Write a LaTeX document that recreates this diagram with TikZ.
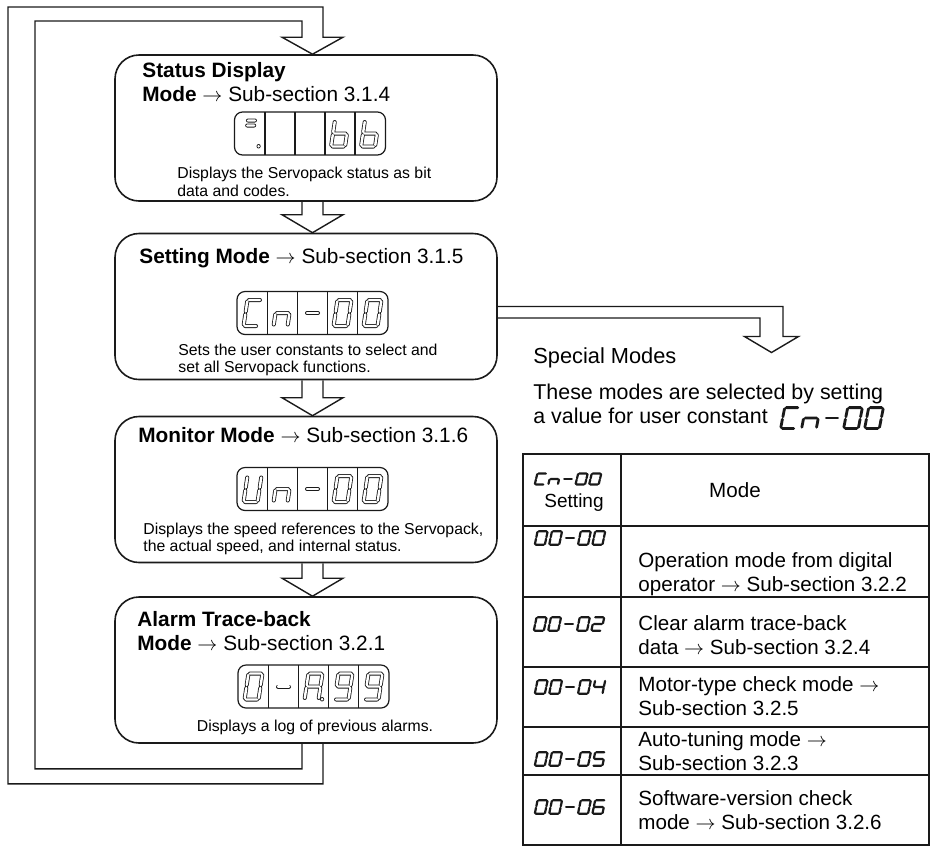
\documentclass[tikz,border=0pt]{standalone}
\usepackage{fontspec}
\setmainfont{Liberation Sans}
\usepackage{tikz}
\usetikzlibrary{positioning,calc}
\definecolor{inkblack}{HTML}{1A1A1A}
% seven-segment pieces (one cell, y runs down)
\newcommand\sga{(-5.5,-13) -- (5.5,-13)}
\newcommand\sgb{(7,-11.5) -- (7,-1.5)}
\newcommand\sgc{(7,1.5) -- (7,11.5)}
\newcommand\sgd{(-5.5,13) -- (5.5,13)}
\newcommand\sge{(-7,1.5) -- (-7,11.5)}
\newcommand\sgf{(-7,-11.5) -- (-7,-1.5)}
\newcommand\sgg{(-5.5,0) -- (5.5,0)}
\newcommand\sgp{(10.5,12.5) -- (10.5,13)}
\newcommand\chNone{}
\newcommand\chStat{(-4,-13) -- (3,-13) (-4,-8) -- (3,-8) \sgp}
\newcommand\chB{\sgf\sge\sgd\sgc\sgg}
\newcommand\chC{\sga\sgf\sge\sgd}
\newcommand\chN{\sge\sgg\sgc}
\newcommand\chM{\sgg}
\newcommand\chO{\sga\sgb\sgc\sgd\sge\sgf}
\newcommand\chU{\sgb\sgc\sgd\sge\sgf}
\newcommand\chA{\sga\sgb\sgc\sge\sgf\sgg\sgp}
\newcommand\chNine{\sga\sgb\sgc\sgd\sgf\sgg}
\newcommand\chTwo{\sga\sgb\sgg\sge\sgd}
\newcommand\chFour{\sgf\sgg\sgb\sgc}
\newcommand\chFive{\sga\sgf\sgg\sgc\sgd}
\newcommand\chSix{\sga\sgf\sgg\sge\sgd\sgc}
\tikzset{
  modebox/.style={rounded corners=12pt, draw=inkblack, line width=0.8pt, minimum width=191pt, minimum height=73pt},
  modetitle/.style={anchor=west, align=left, inner sep=0pt, font=\fontsize{10.4}{12}\selectfont},
  modedesc/.style={anchor=west, align=left, inner sep=0pt, font=\fontsize{7.9}{8.8}\selectfont},
  notetext/.style={anchor=west, align=left, inner sep=0pt, font=\fontsize{10.7}{12}\selectfont},
  tabletext/.style={anchor=west, align=left, inner sep=0pt, font=\fontsize{10.3}{12}\selectfont},
  hollow/.style={draw=inkblack, line width=0.7pt},
  tableline/.style={draw=inkblack, line width=0.6pt},
  lcdframe/.style={draw=inkblack, line width=0.6pt},
  segline/.style={draw=inkblack, line width=0.4pt, double=white, double distance=1.2pt, line cap=round, xslant=0.15},
  tseg/.style={draw=inkblack, line width=1.1pt, line cap=round, xslant=0.15},
  pics/glyph/.style={code={\draw[segline] #1;}},
  pics/lcd/.style args={#1,#2,#3,#4,#5}{code={
    \draw[lcdframe, rounded corners=4pt] (-75.5,-21.5) rectangle (75.5,21.5);
    \foreach \k in {-45,-15,15,45} \draw[lcdframe] (\k,-21.5) -- (\k,21.5);
    \foreach \g [count=\i] in {{#1},{#2},{#3},{#4},{#5}} \pic at (30*\i-90,0) {glyph=\g};
  }},
  pics/seglabel/.style args={#1,#2,#3,#4,#5}{code={
    \foreach \g [count=\i] in {{#1},{#2},{#3},{#4},{#5}} \draw[tseg, shift={(20*\i-60,0)}] \g;
  }}
}
\begin{document}
\begin{tikzpicture}[x=0.5pt, y=-0.5pt]
  \useasboundingbox (0,0) rectangle (931,847);
  \coordinate (ax) at (312.5,0);
  \coordinate (sx) at (771.5,0);
  \coordinate (loopin) at (35,21);
  \coordinate (loopout) at (8,7);

  % mode cycle
  \node[modebox] (status) at (306,128) {};
  \node[modebox] (setting) at (306,306.5) {};
  \node[modebox] (monitor) at (306,489.5) {};
  \node[modebox] (alarm) at (306,670) {};

  \node[modetitle] (statustitle) at (142,82.5) {\textbf{Status Display}\\\textbf{Mode} $\rightarrow$ Sub-section 3.1.4};
  \pic at (310,133.5) {lcd={\chStat,\chNone,\chNone,\chB,\chB}};
  \node[modedesc] (statusdesc) at (177,182) {Displays the Servopack status as bit\\data and codes.};

  \node[modetitle] (settingtitle) at (139,258) {\textbf{Setting Mode} $\rightarrow$ Sub-section 3.1.5};
  \pic at (312.5,313) {lcd={\chC,\chN,\chM,\chO,\chO}};
  \node[modedesc] (settingdesc) at (178,360) {Sets the user constants to select and\\set all Servopack functions.};

  \node[modetitle] (monitortitle) at (138,435) {\textbf{Monitor Mode} $\rightarrow$ Sub-section 3.1.6};
  \pic at (312.5,489) {lcd={\chU,\chN,\chM,\chO,\chO}};
  \node[modedesc] (monitordesc) at (143,539) {Displays the speed references to the Servopack,\\the actual speed, and internal status.};

  \node[modetitle] (alarmtitle) at (137,631.5) {\textbf{Alarm Trace-back}\\\textbf{Mode} $\rightarrow$ Sub-section 3.2.1};
  \pic at (313.5,686.5) {lcd={\chO,\chM,\chA,\chNine,\chNine}};
  \node[modedesc, anchor=center] (alarmdesc) at (315,727.5) {Displays a log of previous alarms.};

  \foreach \a/\b in {status/setting, setting/monitor, monitor/alarm}
    \draw[hollow] ($(\a.south -| ax)+(-10.5,0)$) |- ($(\b.north -| ax)+(-30.5,-18)$) -- (\b.north -| ax) -- ++(30.5,-18) -| ($(\a.south -| ax)+(10.5,0)$);

  % return path
  \draw[hollow] ($(alarm.south -| ax)+(-10.5,0)$) -- ++(0,25) -| (loopin) -| ($(status.north -| ax)+(-10.5,-17)$) -- ++(-20,0) -- (status.north -| ax) -- ++(30.5,-17) -- ++(-20,0) |- (loopout) |- ($(alarm.south -| ax)+(10.5,40)$) -- ($(alarm.south -| ax)+(10.5,0)$);

  % special modes
  \draw[hollow] (setting.east) -| ($(setting.east -| sx)+(11.5,30)$) -- ++(15.5,0) -- ($(setting.east -| sx)+(0,46)$) -- ++(-27,-16) -- ++(15.5,0) |- ($(setting.east)+(0,11.5)$);
  \node[notetext, font=\fontsize{10.9}{12}\selectfont] (specialhead) at (533,358) {Special Modes};
  \node[notetext] (specialnote) at (533,404) {These modes are selected by setting\\a value for user constant};
  \pic[xscale=1.05, yscale=0.8, tseg/.append style={line width=1.4pt}] at (832,418) {seglabel={\chC,\chN,\chM,\chO,\chO}};

  % table
  \draw[tableline] (523,454) rectangle (929,845);
  \draw[tableline] (621,454) -- (621,845);
  \foreach \y in {526,597,667,727,775}
    \draw[tableline] (523,\y) -- (929,\y);
  \pic[xscale=0.68, yscale=0.42] at (568,479) {seglabel={\chC,\chN,\chM,\chO,\chO}};
  \node[tabletext, anchor=east, font=\fontsize{9.5}{11}\selectfont] (settinghead) at (604,503) {Setting};
  \node[tabletext, anchor=center] (modehead) at (735,490) {Mode};
  \pic[xscale=0.72, yscale=0.52] at (570,538) {seglabel={\chO,\chO,\chM,\chO,\chO}};
  \node[tabletext] (opmode) at (638,574.5) {Operation mode from digital\\operator $\rightarrow$ Sub-section 3.2.2};
  \pic[xscale=0.72, yscale=0.52] at (569,624) {seglabel={\chO,\chO,\chM,\chO,\chTwo}};
  \node[tabletext] (clearmode) at (638,635) {Clear alarm trace-back\\data $\rightarrow$ Sub-section 3.2.4};
  \pic[xscale=0.72, yscale=0.52] at (570,687) {seglabel={\chO,\chO,\chM,\chO,\chFour}};
  \node[tabletext] (motormode) at (638,696) {Motor-type check mode $\rightarrow$\\Sub-section 3.2.5};
  \pic[xscale=0.72, yscale=0.52] at (570,759) {seglabel={\chO,\chO,\chM,\chO,\chFive}};
  \node[tabletext] (tunemode) at (638,751) {Auto-tuning mode $\rightarrow$\\Sub-section 3.2.3};
  \pic[xscale=0.72, yscale=0.52] at (570,807) {seglabel={\chO,\chO,\chM,\chO,\chSix}};
  \node[tabletext] (versionmode) at (638,810) {Software-version check\\mode $\rightarrow$ Sub-section 3.2.6};
\end{tikzpicture}
\end{document}
